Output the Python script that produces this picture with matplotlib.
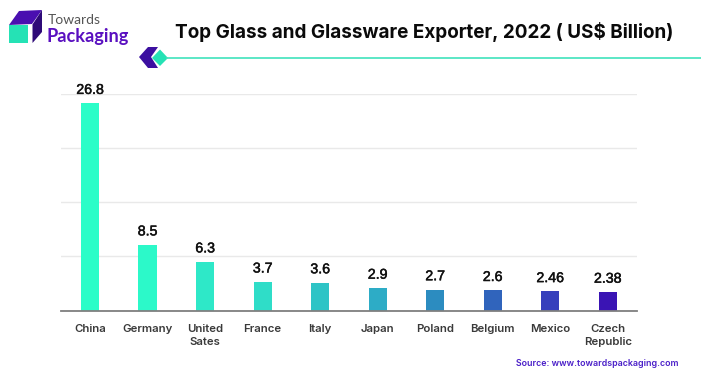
import matplotlib
matplotlib.use("Agg")
import matplotlib.pyplot as plt
import matplotlib.patheffects as pe
from matplotlib.patches import Polygon

categories = ["China", "Germany", "United\nSates", "France", "Italy", "Japan",
              "Poland", "Belgium", "Mexico", "Czech\nRepublic"]
values = [26.8, 8.5, 6.3, 3.7, 3.6, 2.9, 2.7, 2.6, 2.46, 2.38]
labels = ["26.8", "8.5", "6.3", "3.7", "3.6", "2.9", "2.7", "2.6", "2.46", "2.38"]
colors = ["#2BFDC8", "#2CF9C9", "#2EE8C8", "#2FDDC8", "#2EC4C6",
          "#2DACC6", "#2C8CC0", "#3064BC", "#3640BC", "#3A14B4"]
gridticks = [0, 7, 14, 21, 28]

W, H = 701, 376
plt.rcParams["font.family"] = ["Inter", "DejaVu Sans"]
fig = plt.figure(figsize=(W / 100, H / 100), dpi=100)

ax = fig.add_axes([61 / W, 1 - 310.5 / H, (637 - 61) / W, 216.5 / H])
x = list(range(len(values)))
ax.bar(x, values, width=0.315, color=colors, zorder=3)
ax.set_xlim(-0.505, 9.51)
ax.set_ylim(0, 28)
ax.set_yticks(gridticks)
ax.tick_params(axis="y", length=0, labelleft=False)
ax.set_xticks(x)
ax.set_xticklabels(categories, fontsize=8.2, fontweight="semibold", color="#3a3a3a", linespacing=1.45)
ax.tick_params(axis="x", length=0, pad=9.5)
ax.grid(axis="y", color="#e9e9e9", lw=1, zorder=0)
for s in ["top", "left", "right"]:
    ax.spines[s].set_visible(False)
ax.spines["bottom"].set_color("#7f7f7f")
ax.spines["bottom"].set_linewidth(1.3)
ax.spines["bottom"].set_zorder(4)
for xi, v, t in zip(x, values, labels):
    ax.annotate(t, (xi, v), xytext=(0, 4.6), textcoords="offset points", ha="center", va="bottom",
                fontsize=10.2, family="Liberation Sans", color="#111111", zorder=5,
                path_effects=[pe.withStroke(linewidth=0.35, foreground="#111111")])

ov = fig.add_axes([0, 0, 1, 1], facecolor="none")
ov.set_xlim(0, W)
ov.set_ylim(H, 0)
ov.axis("off")

ov.add_patch(Polygon([[9, 25], [19, 11], [42, 10], [32, 24]], closed=True, color="#4A0FB0", lw=0))
ov.add_patch(Polygon([[32.5, 24.5], [42, 10], [42, 32], [32.5, 43]], closed=True, color="#2E0A78", lw=0))
ov.add_patch(Polygon([[9, 25], [27.5, 25], [27.5, 43], [9, 43]], closed=True, color="#25E2B5", lw=0))
ov.text(48, 20.5, "Towards", fontsize=10, color="#555555", family="Lato", va="center", ha="left")
ov.text(47, 36.5, "Packaging", fontsize=13.1, color="#5A10C0", family="Lato",
        fontweight="bold", va="center", ha="left")

ov.add_patch(Polygon([[139, 57], [148, 47], [158, 47], [151, 57], [158, 68], [148, 68]],
                     closed=True, color="#3C10A0", lw=0))
ov.add_patch(Polygon([[152, 58], [160, 49.5], [168, 58], [160, 66]], closed=True, color="#25E2B5", lw=0))
ov.plot([166, 701], [57.5, 57.5], color="#3FE3BC", lw=1.2, solid_capstyle="butt")

ov.text(424, 32.5, "Top Glass and Glassware Exporter, 2022 ( US$ Billion)", fontsize=13.6,
        fontweight="bold", color="#0a0a0a", ha="center", va="center")
ov.text(597, 363, "Source: www.towardspackaging.com", fontsize=6.4, fontweight="semibold",
        color="#4A1FC8", ha="center", va="center")

fig.savefig("out.png", dpi=100, facecolor="white")
